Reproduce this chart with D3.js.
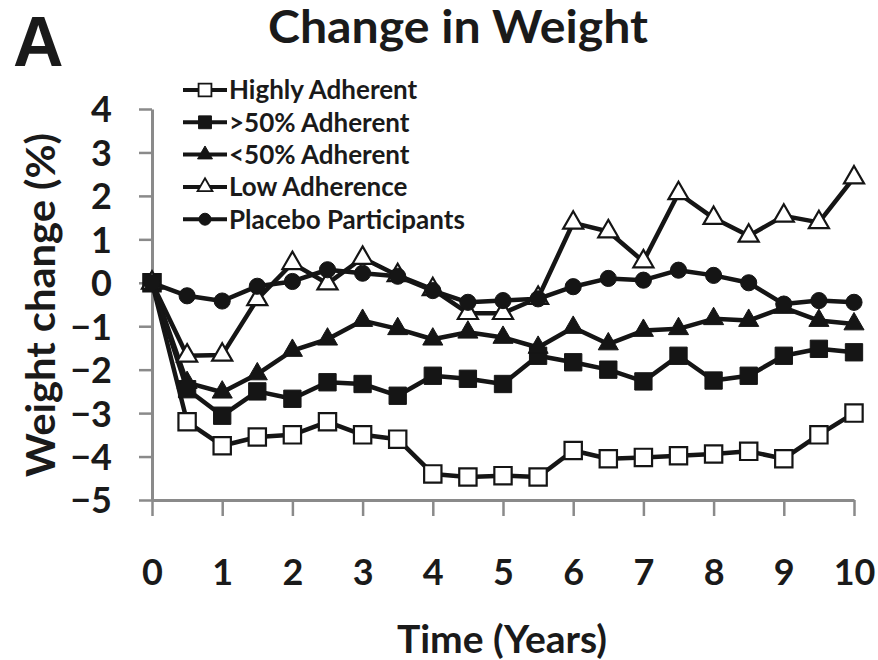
<!DOCTYPE html>
<html>
<head>
<meta charset="utf-8">
<script src="https://cdn.jsdelivr.net/npm/d3@7/dist/d3.min.js"></script>
<style>
  body { margin: 0; background: #fff; }
  text { font-family: Lato, "Open Sans", sans-serif; font-weight: bold; fill: #1a1a1a; }
</style>
</head>
<body>
<script>
// data (weight change %, every half year)
const years = [0, 0.5, 1, 1.5, 2, 2.5, 3, 3.5, 4, 4.5, 5, 5.5, 6, 6.5, 7, 7.5, 8, 8.5, 9, 9.5, 10];
const highlyAdherent = [0, -3.2, -3.75, -3.55, -3.5, -3.2, -3.5, -3.6, -4.4, -4.47, -4.44, -4.47, -3.86, -4.05, -4.02, -3.98, -3.94, -3.88, -4.05, -3.5, -3.0];
const over50 = [0, -2.45, -3.06, -2.5, -2.67, -2.29, -2.33, -2.6, -2.14, -2.21, -2.33, -1.68, -1.83, -2.0, -2.27, -1.68, -2.25, -2.14, -1.68, -1.52, -1.6];
const under50 = [0, -2.3, -2.52, -2.1, -1.56, -1.3, -0.87, -1.06, -1.3, -1.14, -1.26, -1.49, -1.03, -1.41, -1.1, -1.06, -0.83, -0.87, -0.57, -0.87, -0.95];
const lowAdherence = [0, -1.68, -1.66, -0.38, 0.45, -0.02, 0.57, 0.17, -0.15, -0.7, -0.7, -0.35, 1.38, 1.18, 0.49, 2.06, 1.49, 1.08, 1.54, 1.39, 2.42];
const placebo = [0, -0.3, -0.42, -0.08, 0.03, 0.3, 0.22, 0.15, -0.18, -0.45, -0.41, -0.37, -0.09, 0.1, 0.06, 0.29, 0.17, 0.0, -0.49, -0.41, -0.45];

const seriesNames = ['Highly Adherent', '>50% Adherent', '<50% Adherent', 'Low Adherence', 'Placebo Participants'];
const seriesValues = [highlyAdherent, over50, under50, lowAdherence, placebo];
const xTicks = [0, 1, 2, 3, 4, 5, 6, 7, 8, 9, 10];
const yTicks = [4, 3, 2, 1, 0, -1, -2, -3, -4, -5];

// marker look per series: shape + filled or not
const markers = [
  { type: d3.symbolSquare, filled: false },
  { type: d3.symbolSquare, filled: true },
  { type: d3.symbolTriangle, filled: true },
  { type: d3.symbolTriangle, filled: false },
  { type: d3.symbolCircle, filled: true }
];
const markerSize = { square: 300, triangle: 175, circle: 205 };
function sizeOf(t, scale) {
  const s = t === d3.symbolSquare ? markerSize.square : t === d3.symbolTriangle ? markerSize.triangle : markerSize.circle;
  return s * scale;
}

const W = 878, H = 660;
const svg = d3.select('body').append('svg').attr('width', W).attr('height', H);

const x = d3.scaleLinear().domain([0, 10]).range([152, 854]);
const y = d3.scaleLinear().domain([-5, 4]).range([500, 109]);

const axisColor = '#8a8a8a';

// y axis
const yAxis = svg.append('g').attr('transform', 'translate(152,0)')
  .call(d3.axisLeft(y).tickValues(yTicks).tickSize(13).tickSizeOuter(0).tickPadding(27));
// x axis
const xAxis = svg.append('g').attr('transform', 'translate(0,500)')
  .call(d3.axisBottom(x).tickValues(xTicks).tickSize(16).tickSizeOuter(0));

[xAxis, yAxis].forEach(g => {
  g.select('.domain').attr('stroke', axisColor).attr('stroke-width', 3);
  g.selectAll('.tick line').attr('stroke', axisColor).attr('stroke-width', 2.5);
  g.selectAll('.tick text').attr('fill', '#1a1a1a')
    .style('font-size', '36px').style('font-family', 'Lato, sans-serif').style('font-weight', 'bold');
});
yAxis.selectAll('.tick text').attr('dy', '0.36em');
xAxis.selectAll('.tick text').attr('y', 85).attr('dy', 0);

// lines + markers
const line = d3.line().x((d, i) => x(years[i])).y(d => y(d));
seriesValues.forEach((vals, k) => {
  const g = svg.append('g');
  g.append('path').datum(vals)
    .attr('d', line)
    .attr('fill', 'none')
    .attr('stroke', '#151515')
    .attr('stroke-width', 4.5)
    .attr('stroke-linejoin', 'round');
  const m = markers[k];
  g.selectAll('path.mk').data(vals).join('path')
    .attr('class', 'mk')
    .attr('transform', (d, i) => `translate(${x(years[i])},${y(d)})`)
    .attr('d', d3.symbol().type(m.type).size(sizeOf(m.type, 1)))
    .attr('fill', m.filled ? '#151515' : '#fff')
    .attr('stroke', '#151515')
    .attr('stroke-width', m.filled ? 1 : 2.2);
});

// legend
const legend = svg.append('g');
seriesNames.forEach((name, k) => {
  const ly = 90 + k * 32.3;
  const row = legend.append('g').attr('transform', `translate(0,${ly})`);
  row.append('line').attr('x1', 183).attr('x2', 227).attr('y1', 0).attr('y2', 0)
    .attr('stroke', '#151515').attr('stroke-width', 4);
  const m = markers[k];
  row.append('path')
    .attr('transform', 'translate(205,0)')
    .attr('d', d3.symbol().type(m.type).size(sizeOf(m.type, 0.55)))
    .attr('fill', m.filled ? '#151515' : '#fff')
    .attr('stroke', '#151515')
    .attr('stroke-width', m.filled ? 1 : 1.8);
  row.append('text').attr('x', 229).attr('y', 0).attr('dy', '0.36em')
    .style('font-size', '26px')
    .text(name);
});

// titles
svg.append('text').attr('x', 458).attr('y', 43).attr('text-anchor', 'middle')
  .attr('textLength', 380).attr('lengthAdjust', 'spacingAndGlyphs')
  .style('font-size', '45px').text('Change in Weight');
svg.append('text').attr('x', 13).attr('y', 66)
  .style('font-family', '"Liberation Sans", Arial, sans-serif').style('font-size', '70px')
  .text('A');
svg.append('text').attr('x', 502).attr('y', 653).attr('text-anchor', 'middle')
  .style('font-size', '39px').text('Time (Years)');
svg.append('text').attr('transform', 'translate(55,305) rotate(-90)').attr('text-anchor', 'middle')
  .attr('textLength', 344).attr('lengthAdjust', 'spacingAndGlyphs')
  .style('font-size', '41px').text('Weight change (%)');
</script>
</body>
</html>
